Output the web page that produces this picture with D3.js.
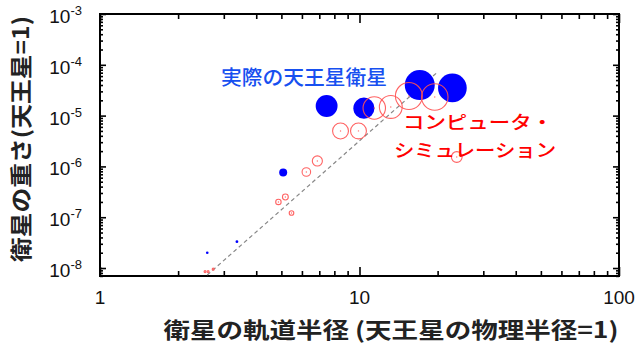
<!DOCTYPE html>
<html><head><meta charset="utf-8">
<script src="https://cdn.jsdelivr.net/npm/d3@7"></script>
<style>html,body{margin:0;padding:0;background:#fff;}svg{display:block;}</style>
</head><body>
<script>
// ---- data ----
const moonRadius = [2.59, 3.37, 5.08, 7.47, 10.4, 17.07, 22.8];          // actual moons: orbit (Uranus radii)
const moonMass   = [2.0e-8, 3.3e-8, 7.6e-7, 1.55e-5, 1.4e-5, 4.0e-5, 3.5e-5];
const simRadius  = [2.54, 2.61, 2.73, 4.87, 5.18, 5.47, 6.24, 6.88, 8.45, 9.91, 11.4, 13.2, 15.5, 19.5, 23.7];
const simMass    = [8.5e-9, 8.5e-9, 9.5e-9, 2.0e-7, 2.5e-7, 1.21e-7, 7.76e-7, 1.28e-6, 4.98e-6, 5.0e-6, 1.41e-5, 1.48e-5, 2.43e-5, 2.32e-5, 1.53e-6];
const trendRadius = [2.59, 20.0];
const trendMass   = [7.28e-9, 7.21e-5];
const xTickLabels = ["1", "10", "100"];
const yTickExps   = [-3, -4, -5, -6, -7, -8];
const labelActual = "実際の天王星衛星";
const labelSim1 = "コンピュータ・";
const labelSim2 = "シミュレーション";
const xTitle = "衛星の軌道半径 (天王星の物理半径=1)";
const yTitle = "衛星の重さ(天王星=1)";

// ---- layout ----
const W = 640, H = 361;
const L = 100, R = 619, T = 14, B = 276;
const svg = d3.select("body").append("svg").attr("width", W).attr("height", H);

const x = d3.scaleLog().domain([1, 100]).range([L, R]);
const y = d3.scaleLog().domain([Math.pow(10, -8.157), 1e-3]).range([B, T]);
const r = d3.scalePow().exponent(1/3).domain([0, 4e-5]).range([0, 15]);

svg.append("clipPath").attr("id", "clip").append("rect")
  .attr("x", L).attr("y", T).attr("width", R - L).attr("height", B - T);

// ticks
const xMajor = [1, 10, 100];
const xMinor = [];
for (const d of [1, 10]) for (let k = 2; k <= 9; k++) xMinor.push(d * k);
const yMajor = yTickExps.map(e => Math.pow(10, e));
const yMinor = [];
for (let e = -9; e <= -4; e++) for (let k = 2; k <= 9; k++) { const v = k * Math.pow(10, e); if (v >= y.domain()[0] && v <= 1e-3) yMinor.push(v); }

function axisG(axis, tx, ty) {
  const g = svg.append("g").attr("transform", `translate(${tx},${ty})`).call(axis);
  g.select(".domain").remove();
  g.selectAll("text").remove();
  g.selectAll("line").attr("stroke", "#000").attr("stroke-width", 1.6);
  return g;
}
axisG(d3.axisBottom(x).tickValues(xMajor).tickSize(-9), 0, B);
axisG(d3.axisBottom(x).tickValues(xMinor).tickSize(-5), 0, B);
axisG(d3.axisTop(x).tickValues(xMajor).tickSize(-9), 0, T);
axisG(d3.axisTop(x).tickValues(xMinor).tickSize(-5), 0, T);
axisG(d3.axisLeft(y).tickValues(yMajor).tickSize(-6), L, 0);
axisG(d3.axisLeft(y).tickValues(yMinor).tickSize(-3), L, 0);
axisG(d3.axisRight(y).tickValues(yMajor).tickSize(-6), R, 0);
axisG(d3.axisRight(y).tickValues(yMinor).tickSize(-3), R, 0);

svg.append("rect").attr("x", L).attr("y", T).attr("width", R - L).attr("height", B - T)
  .attr("fill", "none").attr("stroke", "#000").attr("stroke-width", 2);

// x tick labels
svg.append("g").selectAll("text").data(xMajor).join("text")
  .attr("x", d => x(d)).attr("y", 304)
  .attr("text-anchor", "middle")
  .attr("font-family", "Liberation Sans, Arial, sans-serif").attr("font-size", 19)
  .attr("fill", "#111")
  .text((d, i) => xTickLabels[i]);

// y tick labels
const yl = svg.append("g").selectAll("text").data(yTickExps).join("text")
  .attr("x", 82).attr("y", e => y(Math.pow(10, e)) + 9)
  .attr("text-anchor", "end")
  .attr("font-family", "Liberation Sans, Arial, sans-serif").attr("font-size", 19)
  .attr("fill", "#111");
yl.append("tspan").text("10");
yl.append("tspan").attr("font-size", 13).attr("dy", -8).text(e => String(e));

// plot content
const plot = svg.append("g").attr("clip-path", "url(#clip)");

plot.append("path")
  .datum(trendRadius.map((d, i) => [d, trendMass[i]]))
  .attr("d", d3.line().x(d => x(d[0])).y(d => y(d[1])))
  .attr("fill", "none").attr("stroke", "#888").attr("stroke-width", 1.2)
  .attr("stroke-dasharray", "4,3");

plot.append("g").selectAll("circle").data(moonRadius).join("circle")
  .attr("cx", d => x(d)).attr("cy", (d, i) => y(moonMass[i]))
  .attr("r", (d, i) => Math.max(1.3, r(moonMass[i])))
  .attr("fill", "#0000ff");

const sim = plot.append("g");
sim.selectAll("circle.ring").data(simRadius).join("circle").attr("class", "ring")
  .attr("cx", d => x(d)).attr("cy", (d, i) => y(simMass[i]))
  .attr("r", (d, i) => Math.max(1, r(simMass[i]) * 1.06))
  .attr("fill", "none").attr("stroke", "#ff5252").attr("stroke-width", 1.1).attr("stroke-opacity", 0.9);
sim.selectAll("circle.dot").data(simRadius).join("circle").attr("class", "dot")
  .attr("cx", d => x(d)).attr("cy", (d, i) => y(simMass[i]))
  .attr("r", 0.7).attr("fill", "#ff7070");

// annotations
const jp = "Noto Sans CJK JP, sans-serif";
svg.append("text").attr("x", 221).attr("y", 85)
  .attr("font-family", jp).attr("font-weight", 500).attr("font-size", 20)
  .attr("textLength", 166).attr("lengthAdjust", "spacingAndGlyphs")
  .attr("fill", "#1750f0").text(labelActual);
svg.append("text").attr("x", 403).attr("y", 129)
  .attr("font-family", jp).attr("font-weight", 500).attr("font-size", 18)
  .attr("textLength", 150).attr("lengthAdjust", "spacingAndGlyphs")
  .attr("fill", "#ff0000").text(labelSim1);
svg.append("text").attr("x", 394).attr("y", 157)
  .attr("font-family", jp).attr("font-weight", 500).attr("font-size", 18)
  .attr("textLength", 162).attr("lengthAdjust", "spacingAndGlyphs")
  .attr("fill", "#ff0000").text(labelSim2);

// axis titles
svg.append("text").attr("x", 391).attr("y", 338)
  .attr("text-anchor", "middle")
  .attr("font-family", jp).attr("font-weight", 700).attr("font-size", 22)
  .attr("textLength", 455).attr("lengthAdjust", "spacingAndGlyphs")
  .attr("fill", "#222").text(xTitle);
svg.append("text").attr("transform", "translate(29,139) rotate(-90)")
  .attr("text-anchor", "middle")
  .attr("font-family", jp).attr("font-weight", 700).attr("font-size", 22)
  .attr("textLength", 246).attr("lengthAdjust", "spacingAndGlyphs")
  .attr("fill", "#222").text(yTitle);
</script>
</body></html>
